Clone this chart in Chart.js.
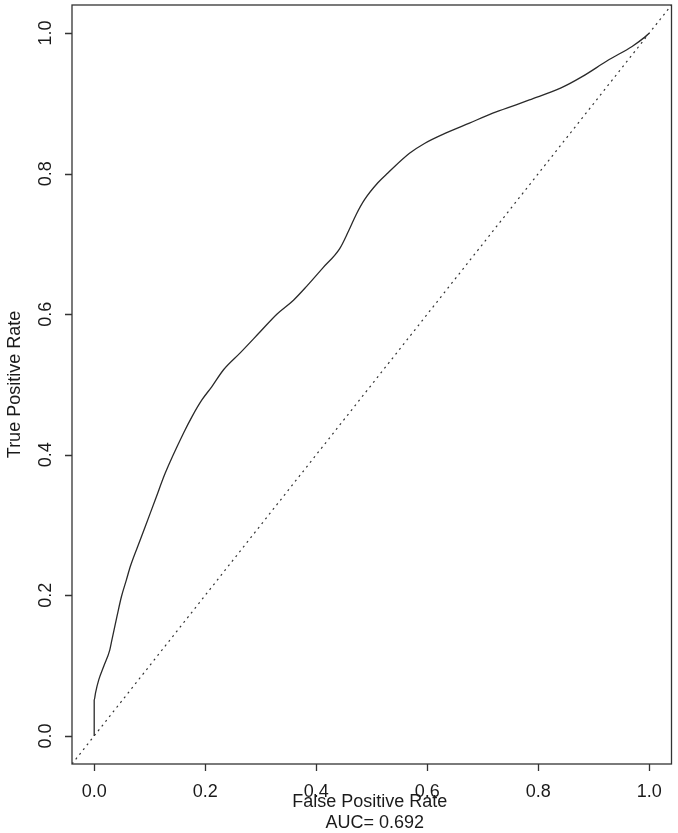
<!DOCTYPE html>
<html>
<head>
<meta charset="utf-8">
<style>
html,body{margin:0;padding:0;background:#fff;}
#wrap{width:678px;height:833px;}
</style>
<script src="https://cdn.jsdelivr.net/npm/chart.js@4/dist/chart.umd.min.js"></script>
</head>
<body>
<div id="wrap"><canvas id="c" width="678" height="833"></canvas></div>
<script>
// ROC curve values
const fpr = [0, 0, 0.0023, 0.0083, 0.0172, 0.028, 0.032, 0.041, 0.049, 0.058, 0.065, 0.083, 0.092, 0.101, 0.110, 0.128, 0.161, 0.176, 0.194, 0.212, 0.233, 0.263, 0.299, 0.329, 0.359, 0.383, 0.412, 0.442, 0.458, 0.472, 0.487, 0.511, 0.529, 0.568, 0.595, 0.634, 0.676, 0.718, 0.760, 0.784, 0.841, 0.879, 0.927, 0.969, 0.993, 1];
const tpr = [0, 0.051, 0.061, 0.080, 0.099, 0.122, 0.137, 0.170, 0.198, 0.222, 0.241, 0.279, 0.298, 0.317, 0.336, 0.374, 0.431, 0.454, 0.478, 0.497, 0.521, 0.545, 0.575, 0.600, 0.620, 0.640, 0.666, 0.693, 0.718, 0.742, 0.763, 0.787, 0.801, 0.829, 0.843, 0.858, 0.872, 0.886, 0.898, 0.905, 0.922, 0.938, 0.962, 0.981, 0.995, 1];
const diagX = [-0.04, 1.04];
const diagY = [-0.04, 1.04];
const xTicks = [0, 0.2, 0.4, 0.6, 0.8, 1.0];
const yTicks = [0, 0.2, 0.4, 0.6, 0.8, 1.0];
const xTitle = "False Positive Rate";
const yTitle = "True Positive Rate";
const aucText = "AUC= 0.692";

const FONT = '18px "Liberation Sans", Arial, sans-serif';
const TXT = '#1a1a1a';

const rPlot = {
  id: 'rplot',
  afterDraw(chart) {
    const ctx = chart.ctx;
    const xs = chart.scales.x, ys = chart.scales.y;
    const a = chart.chartArea;
    ctx.save();
    ctx.strokeStyle = '#333';
    ctx.lineWidth = 1.3;
    ctx.strokeRect(a.left, a.top, a.right - a.left, a.bottom - a.top);
    ctx.font = FONT;
    ctx.fillStyle = TXT;
    ctx.textAlign = 'center';
    ctx.textBaseline = 'alphabetic';
    ctx.beginPath();
    xTicks.forEach(v => {
      const px = Math.round(xs.getPixelForValue(v)) + 0.5;
      ctx.moveTo(px, a.bottom);
      ctx.lineTo(px, a.bottom + 7);
    });
    yTicks.forEach(v => {
      const py = Math.round(ys.getPixelForValue(v)) + 0.5;
      ctx.moveTo(a.left, py);
      ctx.lineTo(a.left - 7, py);
    });
    ctx.stroke();
    xTicks.forEach(v => {
      ctx.fillText(v.toFixed(1), xs.getPixelForValue(v), 796.5);
    });
    yTicks.forEach(v => {
      ctx.save();
      ctx.translate(51.4, ys.getPixelForValue(v));
      ctx.rotate(-Math.PI / 2);
      ctx.fillText(v.toFixed(1), 0, 0);
      ctx.restore();
    });
    const cx = (a.left + a.right) / 2;
    ctx.fillText(xTitle, cx - 2, 806.5);
    ctx.fillText(aucText, cx + 3, 828);
    ctx.save();
    ctx.translate(20.4, (a.top + a.bottom) / 2);
    ctx.rotate(-Math.PI / 2);
    ctx.fillText(yTitle, 0, 0);
    ctx.restore();
    ctx.restore();
  }
};

new Chart(document.getElementById('c'), {
  type: 'scatter',
  data: {
    datasets: [
      {
        data: fpr.map((x, i) => ({x: x, y: tpr[i]})),
        showLine: true,
        borderColor: '#2a2a2a',
        borderWidth: 1.3,
        pointRadius: 0,
        cubicInterpolationMode: 'monotone',
        fill: false
      },
      {
        data: diagX.map((x, i) => ({x: x, y: diagY[i]})),
        showLine: true,
        borderColor: '#333',
        borderWidth: 1.2,
        borderDash: [2, 4],
        pointRadius: 0,
        fill: false
      }
    ]
  },
  options: {
    responsive: false,
    animation: false,
    devicePixelRatio: 1,
    layout: { padding: { left: 72, right: 6.5, top: 5, bottom: 69 } },
    plugins: { legend: { display: false }, tooltip: { enabled: false } },
    scales: {
      x: { type: 'linear', min: -0.04, max: 1.04, display: false },
      y: { type: 'linear', min: -0.04, max: 1.04, display: false }
    }
  },
  plugins: [rPlot]
});
</script>
</body>
</html>
